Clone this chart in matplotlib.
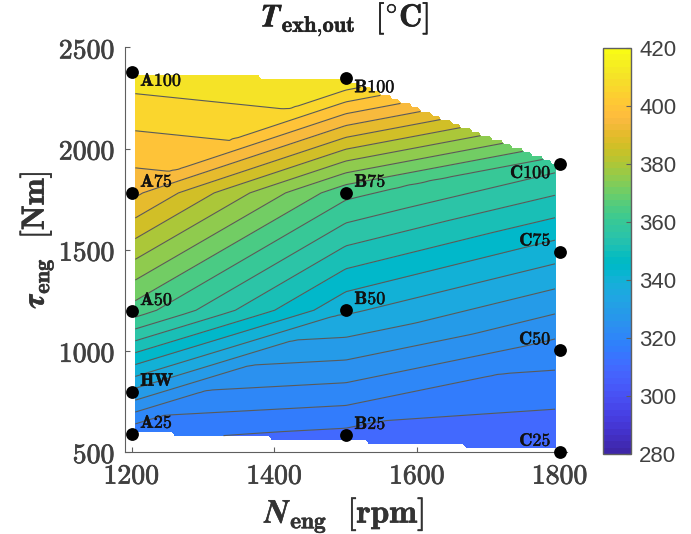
#!/usr/bin/env python
# Exhaust temperature map over the engine operating points
import matplotlib.pyplot as plt
import matplotlib.tri as mtri
import matplotlib.patheffects as pe
from matplotlib.cm import ScalarMappable
from matplotlib.colors import ListedColormap, Normalize
import numpy as np

point_names = ['A100', 'A75', 'A50', 'HW', 'A25', 'B100', 'B75', 'B50', 'B25', 'C100', 'C75', 'C50', 'C25']
point_rpm = [1200, 1200, 1200, 1200, 1200, 1500, 1500, 1500, 1500, 1800, 1800, 1800, 1800]
point_torque = [2380, 1782, 1197, 798, 590, 2348, 1782, 1202, 584, 1924, 1491, 1003, 501]
point_temp = [412.9, 396.6, 368.0, 334.0, 316.3, 415.0, 366.6, 341.0, 313.5, 361.7, 342.2, 322.5, 309.5]

# mesh between the operating points
mesh = [[0, 1, 5], [1, 6, 5], [1, 2, 6], [2, 7, 6], [2, 3, 7], [3, 4, 7], [4, 8, 7],
        [4, 12, 8], [8, 12, 11], [8, 11, 7], [7, 11, 10], [7, 10, 6], [6, 10, 9], [6, 9, 5]]

x_ticks = [1200, 1400, 1600, 1800]
y_ticks = [500, 1000, 1500, 2000, 2500]
cbar_ticks = [280, 300, 320, 340, 360, 380, 400, 420]

parula = [
    [0.2422, 0.1504, 0.6603], [0.2504, 0.1650, 0.7076], [0.2578, 0.1818, 0.7511], [0.2647, 0.1978, 0.7952],
    [0.2706, 0.2147, 0.8364], [0.2751, 0.2342, 0.8710], [0.2783, 0.2559, 0.8991], [0.2803, 0.2782, 0.9221],
    [0.2813, 0.3006, 0.9414], [0.2810, 0.3228, 0.9579], [0.2795, 0.3447, 0.9717], [0.2760, 0.3667, 0.9829],
    [0.2699, 0.3892, 0.9906], [0.2602, 0.4123, 0.9952], [0.2440, 0.4358, 0.9988], [0.2206, 0.4603, 0.9972],
    [0.1963, 0.4847, 0.9892], [0.1834, 0.5074, 0.9798], [0.1786, 0.5289, 0.9682], [0.1764, 0.5499, 0.9520],
    [0.1687, 0.5703, 0.9359], [0.1540, 0.5902, 0.9218], [0.1460, 0.6091, 0.9079], [0.1380, 0.6276, 0.8973],
    [0.1248, 0.6459, 0.8883], [0.1113, 0.6635, 0.8763], [0.0952, 0.6798, 0.8598], [0.0689, 0.6948, 0.8394],
    [0.0297, 0.7082, 0.8163], [0.0036, 0.7203, 0.7917], [0.0067, 0.7312, 0.7660], [0.0433, 0.7411, 0.7394],
    [0.0964, 0.7500, 0.7120], [0.1408, 0.7584, 0.6842], [0.1717, 0.7670, 0.6554], [0.1938, 0.7758, 0.6251],
    [0.2161, 0.7843, 0.5923], [0.2470, 0.7918, 0.5567], [0.2906, 0.7973, 0.5188], [0.3406, 0.8008, 0.4789],
    [0.3909, 0.8029, 0.4354], [0.4456, 0.8024, 0.3909], [0.5044, 0.7993, 0.3480], [0.5616, 0.7942, 0.3045],
    [0.6174, 0.7876, 0.2612], [0.6720, 0.7793, 0.2227], [0.7242, 0.7698, 0.1910], [0.7738, 0.7598, 0.1646],
    [0.8203, 0.7498, 0.1535], [0.8634, 0.7406, 0.1596], [0.9035, 0.7330, 0.1774], [0.9393, 0.7288, 0.2100],
    [0.9728, 0.7298, 0.2394], [0.9956, 0.7434, 0.2371], [0.9970, 0.7659, 0.2199], [0.9952, 0.7893, 0.2028],
    [0.9892, 0.8136, 0.1885], [0.9786, 0.8386, 0.1766], [0.9676, 0.8639, 0.1643], [0.9610, 0.8890, 0.1537],
    [0.9597, 0.9135, 0.1423], [0.9628, 0.9373, 0.1265], [0.9691, 0.9606, 0.1064], [0.9769, 0.9839, 0.0805],
]

plt.rcParams['mathtext.fontset'] = 'cm'
W = 691; H = 534
GREY = '#404040'
EDGE = '#5f5f5f'


def heavy(width, color):
    # cm bold is lighter than the latex bold extended, so thicken it a little
    return [pe.withStroke(linewidth=width, foreground=color)]


fig = plt.figure(figsize=(W/100, H/100), dpi=100)
ax = fig.add_axes([125/W, 1-452/H, 442/W, 404.5/H])
cax = fig.add_axes([602.7/W, 1-454/H, 28/W, 406.3/H])

cmap = ListedColormap(parula)
norm = Normalize(280, 420)
levels = np.arange(280, 425, 5)
# each band takes the colour of its lower level
band_colors = [cmap(norm(v)) for v in levels[:-1]]

tri = mtri.Triangulation(point_rpm, point_torque, mesh)
interp = mtri.LinearTriInterpolator(tri, point_temp)
gx, gy = np.meshgrid(np.arange(1205, 1794, 4.0), np.arange(521, 2362, 20.0))
gt = interp(gx, gy)

ax.contourf(gx, gy, gt, levels=levels, colors=band_colors)
ax.contour(gx, gy, gt, levels=levels, colors='#5a5a5a', linewidths=0.8)

ax.scatter(point_rpm, point_torque, s=85, c='k', clip_on=False, zorder=5, linewidths=0)

# label offsets from the dots, in pixels
for i, name in enumerate(point_names):
    if name[0] == 'C':
        dx, ha = -8.5, 'right'
    else:
        dx, ha = 8.5, 'left'
    dy = -9 if name in ('A100', 'B100', 'C100') else 11
    ax.annotate(r'$\mathbf{%s}$' % name, (point_rpm[i], point_torque[i]), xytext=(dx*0.72, dy*0.72),
                textcoords='offset points', ha=ha, va='center', fontsize=13, color='#111111', zorder=6,
                path_effects=heavy(0.3, '#111111'))

ax.set_xlim(1190.6, 1809.8)
ax.set_ylim(500, 2500)
ax.spines['top'].set_visible(False)
ax.spines['right'].set_visible(False)
ax.spines['left'].set_color(EDGE)
ax.spines['bottom'].set_color(EDGE)
ax.set_xticks(x_ticks)
ax.set_yticks(y_ticks)
ax.set_xticklabels([r'$\mathbf{%d}$' % v for v in x_ticks], fontsize=20, color=GREY)
ax.set_yticklabels([r'$\mathbf{%d}$' % v for v in y_ticks], fontsize=20, color=GREY)
for lab in ax.get_xticklabels() + ax.get_yticklabels():
    lab.set_path_effects(heavy(0.5, GREY))
ax.tick_params(direction='in', length=3.5, width=0.8, color=EDGE, pad=7)

fig.text(345/W, 1-515/H, r'$\mathbfit{N}_{\mathbf{eng}}\ \ \mathbf{[rpm]}$', fontsize=24, color='#333333',
         ha='center', va='center', path_effects=heavy(0.4, '#333333'))
fig.text(37/W, 1-240/H, r'$\mathbfit{\tau}_{\mathbf{eng}}\ \ \mathbf{[Nm]}$', fontsize=23, color='#333333',
         ha='center', va='center', rotation=90, path_effects=heavy(0.4, '#333333'))
fig.text(345/W, 1-20/H, r'$\mathbfit{T}_{\mathbf{exh{,}out}}\ \ [^{\circ}\mathbf{C}]$', fontsize=23, color='#222222',
         ha='center', va='center', path_effects=heavy(0.4, '#222222'))

cb = fig.colorbar(ScalarMappable(norm=norm, cmap=cmap), cax=cax)
cb.set_ticks(cbar_ticks)
cb.outline.set_edgecolor(EDGE)
cb.outline.set_linewidth(1.0)
cb.ax.tick_params(direction='in', length=3.5, width=0.8, color=EDGE, pad=6, labelsize=16, labelcolor=GREY)
for lab in cb.ax.get_yticklabels():
    lab.set_fontfamily('Liberation Sans')

fig.savefig('out.png', dpi=100)
